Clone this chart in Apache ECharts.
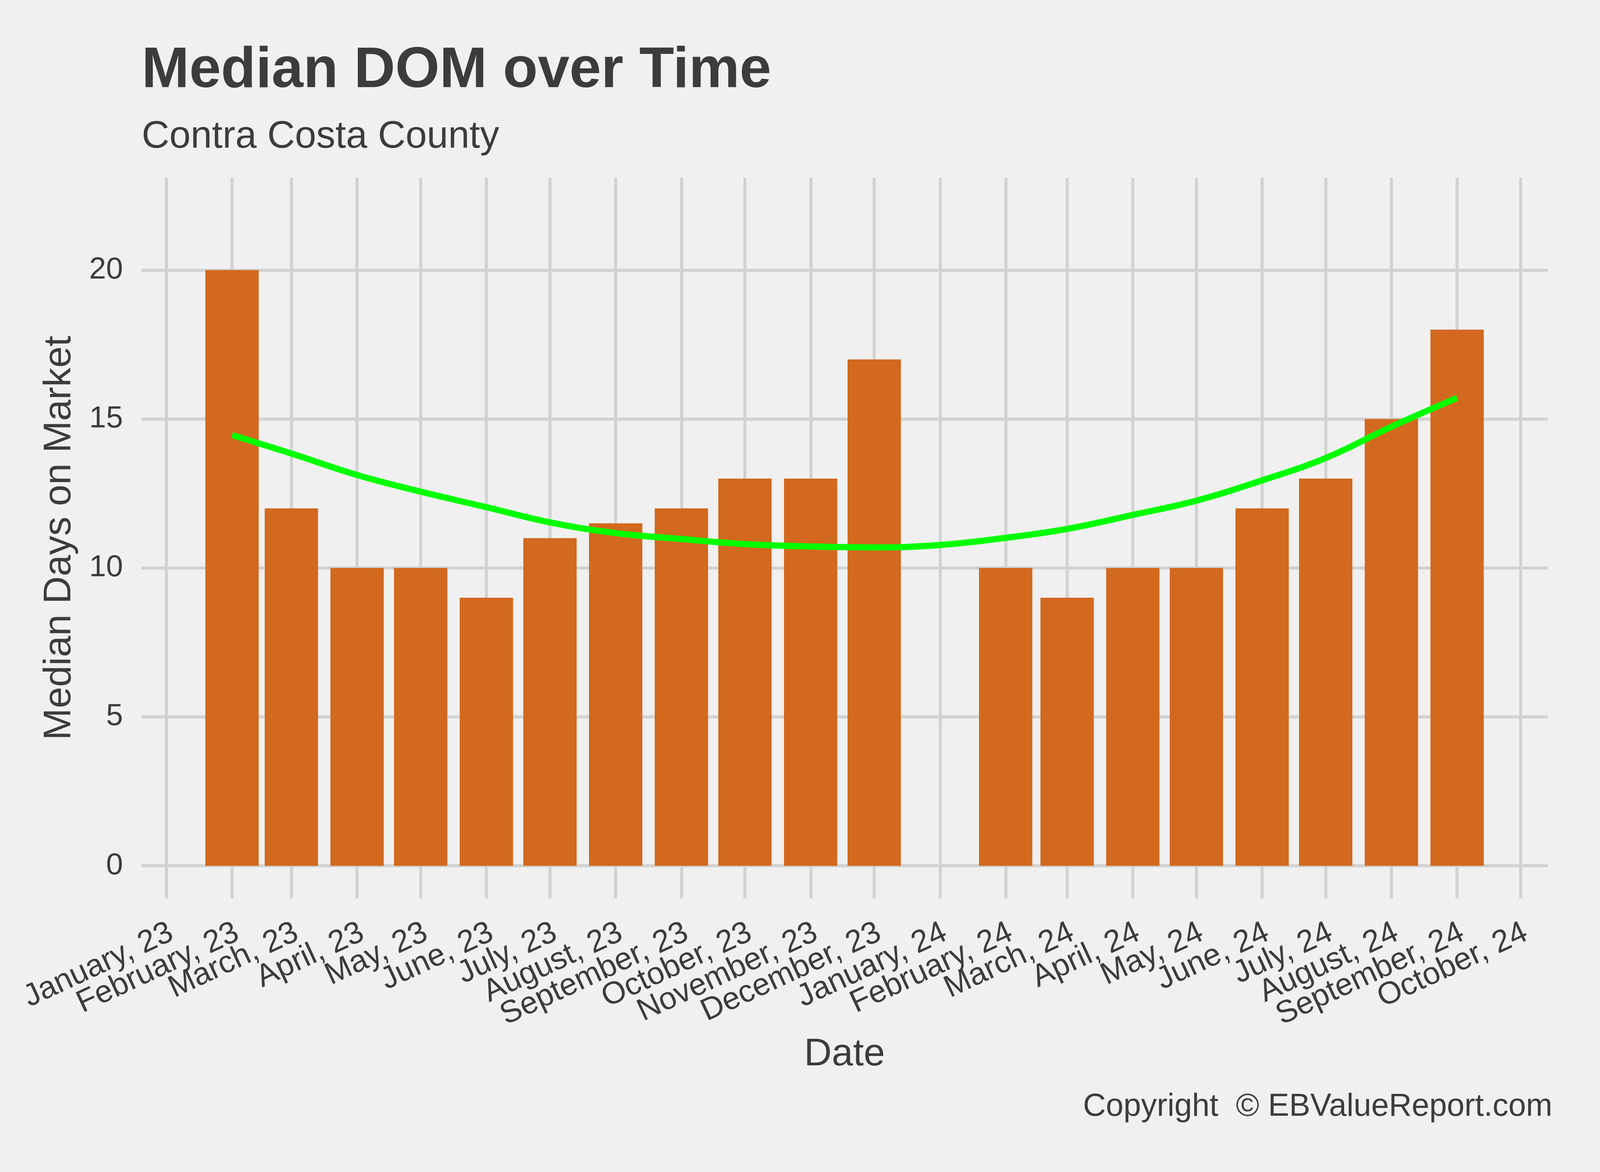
<!DOCTYPE html>
<html>
<head>
<meta charset="utf-8">
<script src="https://cdn.jsdelivr.net/npm/echarts@6/dist/echarts.min.js"></script>
<style>
html,body{margin:0;padding:0;background:#F0F0F0;overflow:hidden;}
#chart{width:100vw;height:100vh;}
</style>
</head>
<body>
<div id="chart"></div>
<script>
// ---- data ----
const barMonths = ['2023-02','2023-03','2023-04','2023-05','2023-06','2023-07','2023-08','2023-09','2023-10','2023-11','2023-12',
                   '2024-02','2024-03','2024-04','2024-05','2024-06','2024-07','2024-08','2024-09'];
const barValues = [20,12,10,10,9,11,11.5,12,13,13,17,10,9,10,10,12,13,15,18];

const trendMonths = ['2023-02','2023-03','2023-04','2023-05','2023-06','2023-07','2023-08','2023-09','2023-10','2023-11','2023-12',
                     '2024-01','2024-02','2024-03','2024-04','2024-05','2024-06','2024-07','2024-08','2024-09'];
const trendValues = [14.46,13.84,13.12,12.56,12.04,11.53,11.17,10.97,10.80,10.72,10.69,10.77,11.01,11.31,11.78,12.26,12.94,13.69,14.74,15.71];

const monthNames = ['January','February','March','April','May','June','July','August','September','October','November','December'];
const yTicks = [0,5,10,15,20];

const titleText = 'Median DOM over Time';
const subtitleText = 'Contra Costa County';
const yName = 'Median Days on Market';
const xName = 'Date';
const captionText = 'Copyright  \u00A9 EBValueReport.com';

// ---- layout (designed for 4200 x 3000, scaled to the actual viewport) ----
const el = document.getElementById('chart');
const W = el.clientWidth || window.innerWidth, H = el.clientHeight || window.innerHeight;
const sx = W / 4200, sy = H / 3000, sf = sx;
const X = v => v * sx, Y = v => v * sy, F = v => Math.round(v * sf);

const DAY = 86400000;
function ts(s){ const p = s.split('-').map(Number); return Date.UTC(p[0], p[1]-1, 1); }

const gridL = X(371), gridR = X(137), gridT = Y(455), gridB = Y(700);
const barW = X(140);
// desired visible extent of the date axis
const D0 = Date.UTC(2023,0,1) - 11.8*DAY;
const D1 = Date.UTC(2024,9,1) + 12.8*DAY;
// ECharts widens a bar axis by the bar width; pre-shrink so the final extent is D0..D1
const axisLen = W - gridL - gridR;
const span = D1 - D0;
const shrink = span * (barW / axisLen) / 2;
const xMin = D0 + shrink, xMax = D1 - shrink;

const FONT = "'Liberation Sans', Arial, sans-serif";
const TXT = '#3C3C3C';
const GRID = '#D2D2D2';

const chart = echarts.init(el, null, {renderer:'canvas', width: W, height: H});
chart.setOption({
  animation: false,
  backgroundColor: '#F0F0F0',
  useUTC: true,
  grid: { left: gridL, right: gridR, top: gridT, bottom: gridB, containLabel: false },
  xAxis: {
    type: 'time',
    min: xMin, max: xMax,
    minInterval: 40*DAY, maxInterval: 40*DAY,
    axisLine: {show:false}, axisTick: {show:false},
    splitLine: {show:true, showMinLine:false, showMaxLine:false, lineStyle:{color:GRID, width:X(8)}},
    axisLabel: {
      show: true, rotate: 25, margin: Y(90), fontSize: F(82), fontFamily: FONT, color: TXT,
      padding: [0, -X(15), 0, 0],
      showMinLabel: false, showMaxLabel: false, hideOverlap: false,
      formatter: function(v){
        const d = new Date(v);
        if (d.getUTCDate() !== 1 || d.getUTCHours() !== 0) return '';
        return monthNames[d.getUTCMonth()] + ', ' + String(d.getUTCFullYear()).slice(2);
      }
    }
  },
  yAxis: {
    type: 'value',
    min: -1.1, max: 23.1,
    minInterval: 5, maxInterval: 5,
    axisLine: {show:false}, axisTick: {show:false},
    splitLine: {show:true, showMinLine:false, showMaxLine:false, lineStyle:{color:GRID, width:Y(8)}},
    axisLabel: {
      margin: X(48), fontSize: F(80), fontFamily: FONT, color: TXT,
      showMinLabel: false, showMaxLabel: false,
      formatter: function(v){ return yTicks.indexOf(v) >= 0 ? String(v) : ''; }
    }
  },
  series: [
    {
      type: 'bar',
      data: barMonths.map((m,i) => [ts(m), barValues[i]]),
      barWidth: barW,
      itemStyle: {color:'#D2691E'},
      z: 2
    },
    {
      type: 'line',
      data: trendMonths.map((m,i) => [ts(m), trendValues[i]]),
      smooth: 0.4,
      symbol: 'none',
      lineStyle: {color:'#00FF00', width: Y(16)},
      z: 3
    }
  ],
  graphic: [
    { type:'text', x: X(372), y: Y(183),
      style:{ text:titleText, font:"bold "+F(150)+"px "+FONT, fill:TXT, textVerticalAlign:'middle' } },
    { type:'text', x: X(372), y: Y(351),
      style:{ text:subtitleText, font:F(100)+"px "+FONT, fill:TXT, textVerticalAlign:'middle' } },
    { type:'text', x: X(157), y: Y(1377), rotation: Math.PI/2,
      style:{ text:yName, font:F(100)+"px "+FONT, fill:TXT, textAlign:'center', textVerticalAlign:'middle' } },
    { type:'text', x: X(2217), y: Y(2700),
      style:{ text:xName, font:F(100)+"px "+FONT, fill:TXT, textAlign:'center', textVerticalAlign:'middle' } },
    { type:'text', x: X(4075), y: Y(2834),
      style:{ text:captionText, font:F(83)+"px "+FONT, fill:TXT, textAlign:'right', textVerticalAlign:'middle' } }
  ]
});
</script>
</body>
</html>
